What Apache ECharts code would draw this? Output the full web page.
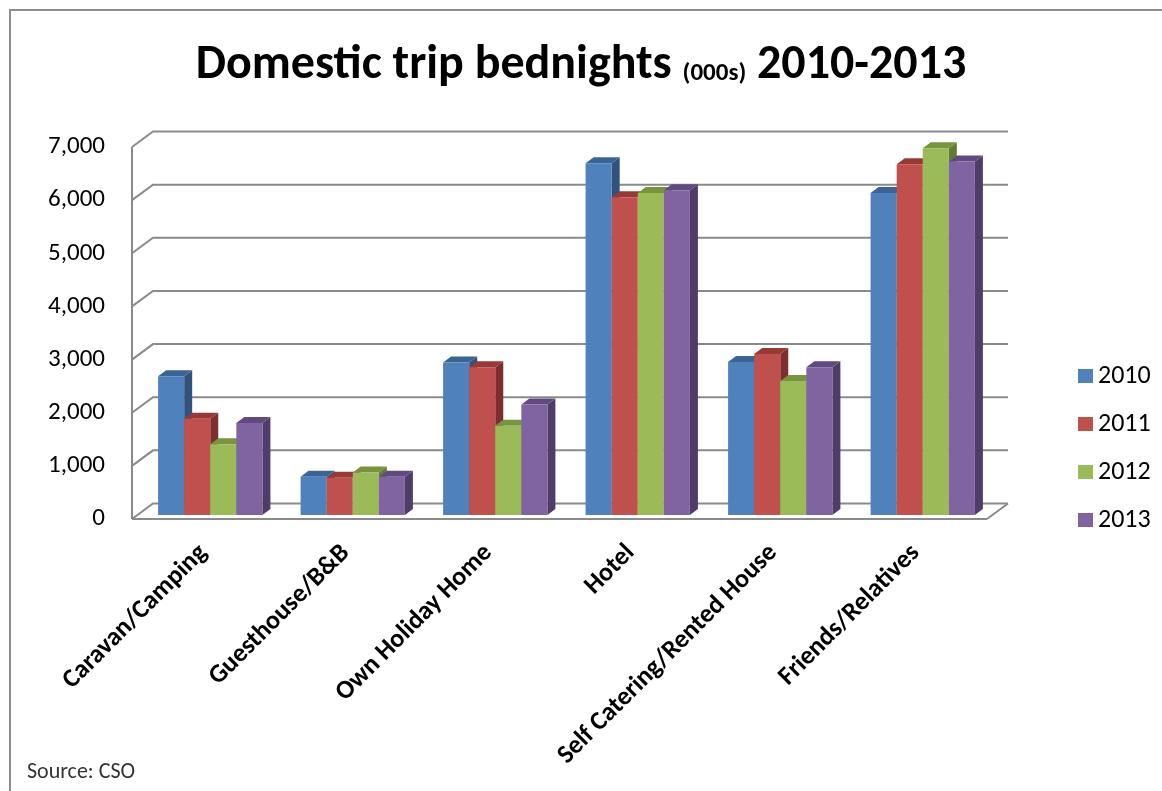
<!DOCTYPE html>
<html><head><meta charset="utf-8">
<script src="https://cdn.jsdelivr.net/npm/echarts@6/dist/echarts.min.js"></script>
<style>html,body{margin:0;padding:0;background:#fff}#c{width:1162px;height:791px}</style>
</head><body><div id="c"></div>
<script>
const categories = ['Caravan/Camping','Guesthouse/B&B','Own Holiday Home','Hotel','Self Catering/Rented House','Friends/Relatives'];
const years = ['2010','2011','2012','2013'];
const v2010 = [2610, 720, 2870, 6620, 2880, 6060];
const v2011 = [1810, 700, 2780, 5980, 3030, 6600];
const v2012 = [1330, 800, 1680, 6060, 2520, 6900];
const v2013 = [1730, 720, 2080, 6110, 2780, 6650];
const yTicks = [0,1000,2000,3000,4000,5000,6000,7000];
const seriesValues = [v2010, v2011, v2012, v2013];
const colors = ['#4F81BD','#C0504D','#9BBB59','#8064A2'];
const topColors = ['#3B6496','#973A37','#78943F','#624A80'];
const sideColors = ['#30527C','#7E2E2C','#637B33','#503C69'];
const FONT = "Carlito, 'Liberation Sans Narrow', 'Liberation Sans', sans-serif";

const chart = echarts.init(document.getElementById('c'));
const DX = 21, DY = -15.5;

function wallItem(params, api){
  const cs = params.coordSys;
  const p = api.coord([0, api.value(0)]);
  const y = p[1];
  const x0 = cs.x;
  return {type:'polyline', shape:{points:[[x0,y],[x0+DX,y+DY],[x0+cs.width+DX,y+DY]]},
    style:{stroke:'#8a8a8a', lineWidth:2, fill:null}, silent:true};
}

function makeBar(si){
  return function(params, api){
    const ci = api.value(0);
    const base = api.coord([ci, 0]);
    const top = api.coord([ci, api.value(1)]);
    const band = api.size([1,0])[0];
    const w = band*0.183;
    const sx = 7, sy = -4, dx = 8, dy = -6;
    const x = base[0] - 2*w + si*w + sx;
    const yb = base[1] + sy, yt = top[1] + sy;
    return {type:'group', children:[
      {type:'polygon', shape:{points:[[x+w,yt],[x+w+dx,yt+dy],[x+w+dx,yb+dy],[x+w,yb]]}, style:{fill:sideColors[si]}},
      {type:'polygon', shape:{points:[[x,yt],[x+dx,yt+dy],[x+w+dx,yt+dy],[x+w,yt]]}, style:{fill:topColors[si]}},
      {type:'rect', shape:{x:x, y:yt, width:w, height:yb-yt}, style:{fill:colors[si]}}
    ]};
  };
}

const series = [{
  type:'custom', name:'wall', silent:true, z:1,
  data: yTicks.map(t=>[t]), renderItem: wallItem,
  encode:{y:0}
}, {
  type:'custom', name:'frame', silent:true, z:1, data:[[0]],
  renderItem: function(params, api){
    const cs = params.coordSys;
    const b = api.coord([0,0])[1];
    const t = api.coord([0,7000])[1];
    return {type:'group', children:[
      {type:'line', shape:{x1:cs.x, y1:b, x2:cs.x, y2:t}, style:{stroke:'#8a8a8a', lineWidth:2}},
      {type:'line', shape:{x1:cs.x, y1:b, x2:cs.x+cs.width, y2:b}, style:{stroke:'#8a8a8a', lineWidth:2}},
      {type:'line', shape:{x1:cs.x+cs.width, y1:b, x2:cs.x+cs.width+DX, y2:b+DY}, style:{stroke:'#8a8a8a', lineWidth:2}}
    ]};
  }
}];
years.forEach((y,si)=>{
  series.push({type:'custom', name:y, z:3, itemStyle:{color:colors[si]},
    data: seriesValues[si].map((v,i)=>[i,v]), renderItem: makeBar(si), encode:{x:0,y:1}});
});

chart.setOption({
  animation:false,
  textStyle:{fontFamily:FONT},
  title:{left:'center', top:37, text:'{a|Domestic trip bednights }{b|(000s)}{a| 2010-2013}',
    textStyle:{rich:{a:{fontSize:48,fontWeight:'bold',color:'#000',fontFamily:FONT},
                     b:{fontSize:25,fontWeight:'bold',color:'#000',fontFamily:FONT,padding:[16,0,0,0]}}}},
  legend:{orient:'vertical', left:1073, top:358, itemWidth:15, itemHeight:14, itemGap:22,
    data: years.map((y,i)=>({name:y, icon:'rect', itemStyle:{color:colors[i]}})),
    textStyle:{fontSize:26, color:'#000', fontFamily:FONT}},
  grid:{left:132, right:175, top:147, bottom:272, containLabel:false},
  xAxis:{type:'category', data:categories, axisLine:{show:false}, axisTick:{show:false}, splitLine:{show:false},
    axisLabel:{rotate:45, interval:0, margin:30, fontSize:26, fontWeight:'bold', color:'#000', fontFamily:FONT}},
  yAxis:{type:'value', min:0, max:7000, interval:1000, axisLine:{show:false}, axisTick:{show:false}, splitLine:{show:false},
    axisLabel:{margin:27, fontSize:25, color:'#000', fontFamily:FONT,
      formatter:v=>v.toLocaleString('en-US')}},
  graphic:[
    {type:'rect', shape:{x:10, y:10, width:1200, height:820}, style:{fill:null, stroke:'#8c8c8c', lineWidth:2}, silent:true},
    {type:'text', left:27, top:761, style:{text:'Source: CSO', fontSize:22, fill:'#333', fontFamily:FONT}}
  ],
  series: series
});
</script></body></html>
